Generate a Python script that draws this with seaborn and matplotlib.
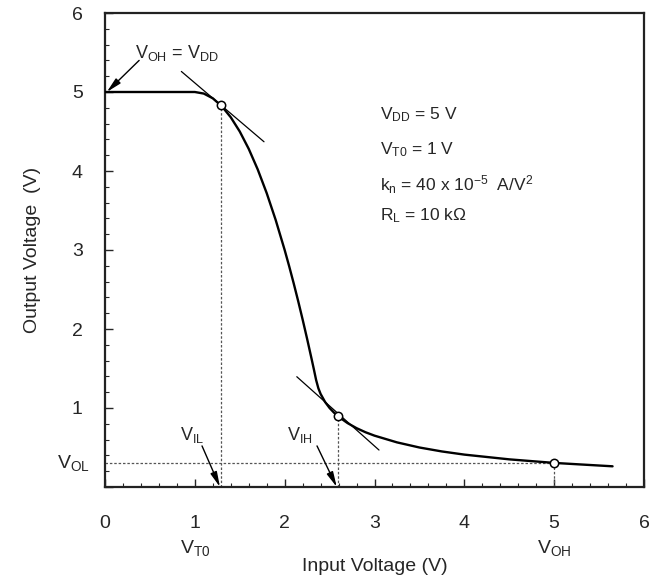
import matplotlib
matplotlib.use("Agg")
import matplotlib.pyplot as plt
from matplotlib.ticker import MultipleLocator
import matplotlib.transforms as mtransforms
import seaborn as sns

# ---- data ----
vin = [0.0, 0.5, 1.0, 1.1, 1.2, 1.3, 1.4, 1.5, 1.6, 1.7, 1.8, 1.9, 2.0, 2.05,
       2.1, 2.15, 2.2, 2.25, 2.3, 2.325, 2.35, 2.375, 2.4, 2.45, 2.5, 2.55,
       2.6, 2.7, 2.8, 2.9, 3.0, 3.25, 3.5, 3.75, 4.0, 4.5, 5.0, 5.3, 5.65]
vout = [5.0, 5.0, 5.0, 4.98, 4.92, 4.82, 4.68, 4.5, 4.28, 4.02, 3.72, 3.38, 3.0, 2.795,
        2.58, 2.355, 2.12, 1.875, 1.62, 1.49, 1.355, 1.25, 1.178, 1.076, 1.0, 0.94,
        0.89, 0.809, 0.745, 0.693, 0.65, 0.565, 0.5, 0.45, 0.41, 0.35, 0.305, 0.285, 0.262]

crit_x = [1.29, 2.59, 5.0]          # V_IL, V_IH, V_OH
crit_y = [4.83, 0.90, 0.305]        # corresponding outputs
vol = 0.305

tan1_x, tan1_y = [0.85, 1.77], [5.26, 4.37]
tan2_x, tan2_y = [2.135, 3.05], [1.396, 0.468]

xticks = [0, 1, 2, 3, 4, 5, 6]
xticklabels = ["0", "1", "2", "3", "4", "5", "6"]
yticks = [0, 1, 2, 3, 4, 5, 6]
yticklabels = ["", "1", "2", "3", "4", "5", "6"]

params = ["$V_{DD}$ = 5 V", "$V_{T0}$ = 1 V",
          "$k_n$ = 40 x 10$^{-5}$  A/V$^2$", "$R_L$ = 10 k\u03a9"]

# ---- style ----
sns.set_style("ticks")
plt.rcParams["font.family"] = ["Liberation Sans", "DejaVu Sans"]
plt.rcParams["mathtext.default"] = "regular"

fig = plt.figure(figsize=(6.62, 5.8), dpi=100)
ax = fig.add_axes([105 / 662, 1 - 487 / 580, 539 / 662, 474 / 580])

sns.lineplot(x=vin, y=vout, color="black", linewidth=1.7, sort=False,
             estimator=None, ax=ax, zorder=3)

# tangents
ax.plot(tan1_x, tan1_y, color="black", linewidth=0.9, zorder=3)
ax.plot(tan2_x, tan2_y, color="black", linewidth=0.9, zorder=3)

# dotted guides
dot = dict(color="#555555", linewidth=0.9, linestyle=(0, (2, 1.5)), zorder=2)
ax.plot([0, crit_x[2]], [vol, vol], **dot)
for cx, cy in zip(crit_x, crit_y):
    ax.plot([cx, cx], [0, cy], **dot)

sns.scatterplot(x=crit_x, y=crit_y, marker="o", s=36, facecolor="white",
                edgecolor="black", linewidth=1.1, ax=ax, zorder=5)

ax.set_xlim(0, 6)
ax.set_ylim(0, 6)
ax.set_xticks(xticks)
ax.set_xticklabels(xticklabels)
ax.set_yticks(yticks)
ax.set_yticklabels(yticklabels)
ax.xaxis.set_minor_locator(MultipleLocator(0.2))
ax.yaxis.set_minor_locator(MultipleLocator(0.2))
ax.tick_params(which="both", direction="in", top=False, right=False)
ax.tick_params(which="major", length=6, width=1.0, labelsize=14)
ax.tick_params(axis="x", which="major", pad=20)
ax.tick_params(axis="y", which="major", pad=16)
ax.tick_params(which="minor", length=3, width=0.8)
for s in ax.spines.values():
    s.set_linewidth(1.6)
    s.set_color("#222222")

ax.set_xlabel("Input Voltage (V)", fontsize=14, labelpad=19)
ax.set_ylabel("Output Voltage  (V)", fontsize=14, labelpad=22)

# extra axis labels
trans_y = mtransforms.blended_transform_factory(ax.transAxes, ax.transData)
ax.text(-0.028, vol, "$V_{OL}$", transform=trans_y, ha="right", va="center",
        fontsize=14)
trans_x = mtransforms.blended_transform_factory(ax.transData, ax.transAxes)
ax.text(1.0, -0.128, "$V_{T0}$", transform=trans_x, ha="center", va="center",
        fontsize=14)
ax.text(5.0, -0.128, "$V_{OH}$", transform=trans_x, ha="center", va="center",
        fontsize=14)

# parameter block
for txt, py in zip(params, [4.71, 4.27, 3.83, 3.44]):
    ax.text(3.06, py, txt, ha="left", va="center", fontsize=12.5)

# annotations with arrows
arw = dict(arrowstyle="-|>,head_length=0.9,head_width=0.2", color="black",
           linewidth=1.0, shrinkA=0, shrinkB=0)
ax.annotate("", xy=(0.02, 5.0), xytext=(0.38, 5.40), arrowprops=arw)
ax.text(0.33, 5.49, "$V_{OH}$ = $V_{DD}$", ha="left", va="center", fontsize=13)

ax.annotate("", xy=(1.28, 0.0), xytext=(1.08, 0.52), arrowprops=arw)
ax.text(0.97, 0.66, "$V_{IL}$", ha="center", va="center", fontsize=13)
ax.annotate("", xy=(2.58, 0.0), xytext=(2.36, 0.52), arrowprops=arw)
ax.text(2.17, 0.66, "$V_{IH}$", ha="center", va="center", fontsize=13)

fig.savefig("out.png", dpi=100)
